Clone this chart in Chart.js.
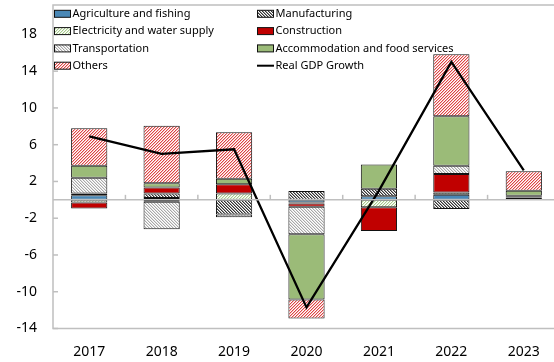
<!DOCTYPE html>
<html>
<head>
<meta charset="utf-8">
<script src="https://cdn.jsdelivr.net/npm/chart.js@4.4.1/dist/chart.umd.min.js"></script>
<style>
html, body { margin: 0; padding: 0; background: #fff; overflow: hidden; }
#wrap { width: 560px; height: 362px; }
</style>
</head>
<body>
<div id="wrap"><canvas id="mycanvas" width="560" height="362"></canvas></div>
<script>
var years = ['2017', '2018', '2019', '2020', '2021', '2022', '2023'];
var agriculture    = [0.5, 0.2, 0.0, -0.3, 0.4, 0.55, 0.1];
var manufacturing  = [0.2, 0.5, -1.6, 0.95, 0.8, -1.0, 0.15];
var electricity    = [-0.3, -0.2, 0.7, -0.1, -0.8, 0.25, 0.05];
var construction   = [-0.65, 0.65, 1.0, -0.35, -2.6, 2.0, 0.1];
var transportation = [1.7, -3.0, -0.3, -3.0, 0.0, 0.9, 0.05];
var accommodation  = [1.3, 0.45, 0.6, -7.1, 2.65, 5.4, 0.55];
var others         = [4.1, 6.25, 5.05, -2.05, 0.0, 6.75, 2.1];
var gdpGrowth      = [6.9, 5.0, 5.5, -11.7, 1.0, 15.0, 3.2];
var yTicks = [-14, -10, -6, -2, 2, 6, 10, 14, 18];
var yMin = -14, yMax = 21.2;

var FONT = '"Noto Sans", "Open Sans", sans-serif';

// pixel hatch tiles for the patterned bars ('/' when dir > 0, '\' otherwise);
// the second colour softens the stripe edge
function hatch(color, soft, dir, period) {
	var tile = document.createElement('canvas');
	tile.width = period; tile.height = period;
	var g = tile.getContext('2d');
	g.fillStyle = '#fff';
	g.fillRect(0, 0, period, period);
	for (var y = 0; y < period; y++) {
		for (var x = 0; x < period; x++) {
			var k = dir > 0 ? (x + y) % period : (x - y + period) % period;
			if (k === period - 1) g.fillStyle = color;
			else if (k === 0) g.fillStyle = soft;
			else continue;
			g.fillRect(x, y, 1, 1);
		}
	}
	return g.createPattern(tile, 'repeat');
}

function barSet(label, data, fill) {
	return {
		type: 'bar',
		label: label,
		data: data,
		stack: 'sectors',
		order: 1,
		backgroundColor: fill,
		borderColor: '#111',
		borderWidth: 1,
		borderSkipped: false,
		categoryPercentage: 0.5,
		barPercentage: 1
	};
}

function line(g, x1, y1, x2, y2) {
	g.beginPath();
	g.moveTo(x1, y1);
	g.lineTo(x2, y2);
	g.stroke();
}

// plot frame, inside ticks and the zero axis with category ticks
var axisPlugin = {
	id: 'axisFrame',
	afterDraw: function(c) {
		var a = c.chartArea, ys = c.scales.y, g = c.ctx;
		g.save();
		g.strokeStyle = '#bfbfbf';
		g.lineWidth = 1.5;
		g.strokeRect(a.left, a.top, a.right - a.left, a.bottom - a.top);
		yTicks.forEach(function(v) {
			var py = ys.getPixelForValue(v);
			line(g, a.left, py, a.left + 5, py);
		});
		var y0 = ys.getPixelForValue(0);
		line(g, a.left, y0, a.right, y0);
		var step = (a.right - a.left) / years.length;
		for (var i = 1; i < years.length; i++) {
			var px = a.left + i * step;
			line(g, px, y0 - 5, px, y0);
		}
		g.restore();
	}
};

// two-column legend in the upper left of the plot
var legendPlugin = {
	id: 'twoColLegend',
	afterDraw: function(c) {
		var g = c.ctx;
		g.save();
		g.font = '11px ' + FONT;
		g.textBaseline = 'middle';
		c.data.datasets.forEach(function(d, i) {
			var bx = (i % 2) ? 257 : 54;
			var by = 13.8 + Math.floor(i / 2) * 17.3;
			if (d.type === 'line') {
				g.strokeStyle = '#000';
				g.lineWidth = 2;
				line(g, bx, by, bx + 17, by);
			} else {
				g.fillStyle = d.backgroundColor;
				g.fillRect(bx, by - 3.5, 17, 7);
				g.strokeStyle = '#111';
				g.lineWidth = 1;
				g.strokeRect(bx + 0.5, by - 3.5, 16, 7);
			}
			g.fillStyle = '#000';
			g.fillText(d.label, bx + 18.5, by);
		});
		g.restore();
	}
};

var ctx = document.getElementById('mycanvas');

var chart = new Chart(ctx, {
	data: {
		labels: years,
		datasets: [
			barSet('Agriculture and fishing', agriculture, '#4a88b6'),
			barSet('Manufacturing', manufacturing, hatch('#333333', '#9a9a9a', -1, 3)),
			barSet('Electricity and water supply', electricity, hatch('#a6c98a', '#e2eed8', 1, 3)),
			barSet('Construction', construction, '#c00000'),
			barSet('Transportation', transportation, hatch('#a8a8a8', '#e0e0e0', -1, 3)),
			barSet('Accommodation and food services', accommodation, '#9bbb78'),
			barSet('Others', others, hatch('#dc4444', '#f5b8b8', 1, 3)),
			{
				type: 'line',
				label: 'Real GDP Growth',
				data: gdpGrowth,
				stack: 'gdp',
				order: 0,
				borderColor: '#000',
				borderWidth: 2.3,
				pointRadius: 0,
				tension: 0,
				fill: false
			}
		]
	},
	options: {
		responsive: false,
		animation: false,
		layout: { padding: { top: 5, left: 0, right: 0, bottom: 0 } },
		plugins: {
			legend: { display: false },
			tooltip: { enabled: false }
		},
		scales: {
			x: {
				stacked: true,
				grid: { display: false, drawTicks: false },
				border: { display: false },
				ticks: { color: '#000', padding: 15, font: { family: FONT, size: 14 } },
				afterFit: function(s) {
					s.height = 33.5;
					s.paddingLeft = 0;
					s.paddingRight = 0;
				}
			},
			y: {
				stacked: true,
				min: yMin,
				max: yMax,
				afterBuildTicks: function(s) {
					s.ticks = yTicks.map(function(v) { return { value: v }; });
				},
				grid: { display: false, drawTicks: false },
				border: { display: false },
				ticks: { color: '#000', padding: 16, font: { family: FONT, size: 14 } },
				afterFit: function(s) {
					s.width = 53;
					s.paddingTop = 0;
					s.paddingBottom = 0;
				}
			}
		}
	},
	plugins: [axisPlugin, legendPlugin]
});
</script>
</body>
</html>
